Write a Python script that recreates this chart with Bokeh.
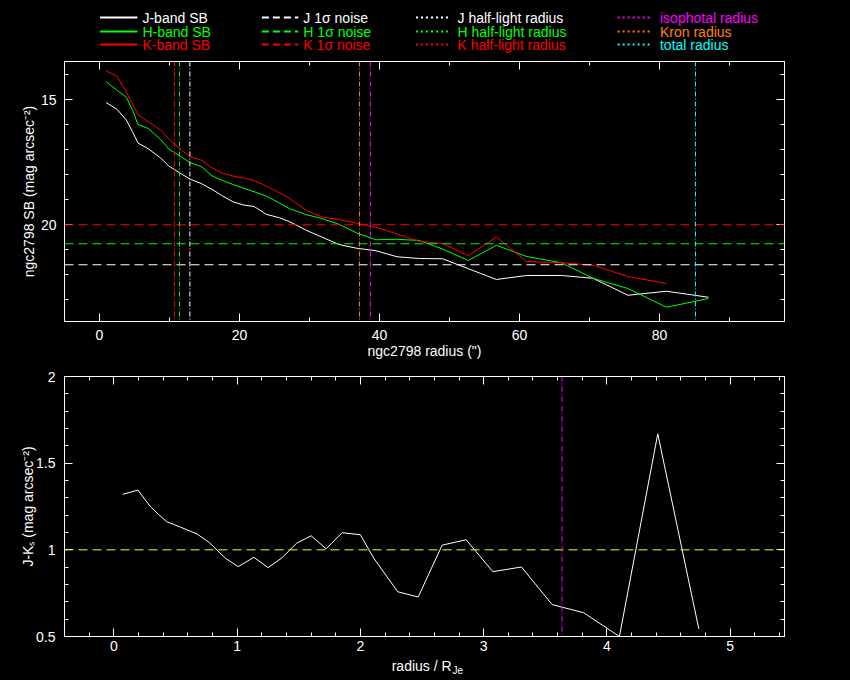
import numpy as np
from bokeh.plotting import figure
from bokeh.models import Range1d, LinearAxis, FixedTicker, Span, ColumnDataSource
from bokeh.layouts import column
from bokeh.embed import file_html
from bokeh.resources import INLINE
from bokeh.core.properties import value

# ---------------- data ----------------
radius = [0.94, 2.5, 3.83, 4.7, 5.5, 6.96, 8.7, 9.9, 11.65, 12.98, 14.6, 16.1, 17.6, 19.06,
          20.6, 22.1, 23.8, 25.7, 27.1, 29.6, 31.75, 34.2, 36.75, 39.5, 42.5, 45.7, 49.0,
          52.7, 56.7, 61.0, 66.0, 70.5, 75.5, 81.0, 87.0]
sb_j = [15.11, 15.38, 15.81, 16.27, 16.73, 16.96, 17.32, 17.65, 17.96, 18.18, 18.36, 18.59,
        18.85, 19.08, 19.21, 19.27, 19.58, 19.72, 19.87, 20.23, 20.49, 20.79, 20.94, 21.04,
        21.28, 21.35, 21.36, 21.76, 22.19, 22.03, 22.03, 22.14, 22.82, 22.66, 22.90]
sb_h = [14.28, 14.62, 14.90, 15.40, 15.99, 16.15, 16.58, 16.97, 17.28, 17.52, 17.68, 18.05,
        18.23, 18.39, 18.54, 18.68, 18.85, 19.13, 19.35, 19.60, 19.75, 19.98, 20.33, 20.60,
        20.58, 20.63, 20.97, 21.43, 20.82, 21.27, 21.52, 22.14, 22.55, 23.30, 22.95]
radius_k = radius[:34]
sb_k = [13.84, 14.06, 14.68, 15.16, 15.60, 15.88, 16.20, 16.56, 17.01, 17.28, 17.42, 17.73,
        17.94, 18.05, 18.14, 18.23, 18.45, 18.72, 18.93, 19.44, 19.69, 19.79, 19.94, 20.10,
        20.37, 20.66, 20.75, 21.24, 20.49, 21.47, 21.52, 21.62, 22.07, 22.35]

noise_j, noise_h, noise_k = 21.6, 20.76, 20.0
r_half_j, r_half_h, r_half_k = 12.91, 11.43, 10.71
r_iso, r_kron, r_total = 38.71, 37.14, 85.14

x_norm = [0.073, 0.195, 0.298, 0.365, 0.427, 0.541, 0.676, 0.771, 0.906, 1.009, 1.136, 1.252,
          1.366, 1.482, 1.601, 1.722, 1.852, 2.0, 2.109, 2.303, 2.469, 2.663, 2.858, 3.074,
          3.307, 3.555, 3.812, 4.101, 4.412, 4.745]
jk = [1.32, 1.345, 1.248, 1.203, 1.163, 1.131, 1.091, 1.044, 0.951, 0.903, 0.957, 0.897,
      0.955, 1.038, 1.081, 1.006, 1.099, 1.087, 0.951, 0.758, 0.728, 1.027, 1.058, 0.874,
      0.901, 0.684, 0.637, 0.50, 1.669, 0.544]
jk_ref = 1.0
x_norm_iso = 3.636

top_xticks = [0, 20, 40, 60, 80]
top_xminor = [10, 30, 50, 70, 90]
top_yticks = [15, 20]
top_yminor = [14, 16, 17, 18, 19, 21, 22, 23]
bot_xticks = [0, 1, 2, 3, 4, 5]
bot_xminor = [-0.2, 0.2, 0.4, 0.6, 0.8, 1.2, 1.4, 1.6, 1.8, 2.2, 2.4, 2.6, 2.8, 3.2, 3.4,
              3.6, 3.8, 4.2, 4.4, 4.6, 4.8, 5.2, 5.4]
bot_yticks = [0.5, 1, 1.5, 2]
bot_yminor = [0.6, 0.7, 0.8, 0.9, 1.1, 1.2, 1.3, 1.4, 1.6, 1.7, 1.8, 1.9]

legend_col1 = ["J-band SB", "H-band SB", "K-band SB"]
legend_col2 = ["J 1\u03c3 noise", "H 1\u03c3 noise", "K 1\u03c3 noise"]
legend_col3 = ["J half-light radius", "H half-light radius", "K half-light radius"]
legend_col4 = ["isophotal radius", "Kron radius", "total radius"]

WHITE, GREEN, RED = "#ffffff", "#00ff00", "#ff0000"
MAGENTA, ORANGE, CYAN, YELLOW = "#ff00ff", "#ff8000", "#00ffff", "#ffff00"
FONT = "Liberation Sans"
FS = "14px"
DASH = "9 5"
DOT = "5 2 1 2"


def style_fig(p):
    p.background_fill_color = "black"
    p.border_fill_color = "black"
    p.outline_line_color = "white"
    p.outline_line_width = 1
    p.xgrid.visible = False
    p.ygrid.visible = False


def style_axis(ax, show_labels=True, standoff=8):
    ax.axis_line_color = "white"
    ax.major_tick_line_color = "white"
    ax.minor_tick_line_color = "white"
    ax.major_tick_in = 8
    ax.major_tick_out = 0
    ax.minor_tick_in = 4
    ax.minor_tick_out = 0
    ax.major_label_text_font = FONT
    if show_labels:
        ax.major_label_text_color = "white"
        ax.major_label_text_font_size = FS
        ax.major_label_standoff = standoff
    else:
        ax.major_label_text_color = None
        ax.major_label_text_font_size = "1px"
        ax.major_label_standoff = 0
    ax.axis_label_text_color = "white"
    ax.axis_label_text_font = FONT
    ax.axis_label_text_font_size = FS
    ax.axis_label_text_font_style = "normal"


def blank_fig(h):
    f = figure(width=850, height=h, x_range=Range1d(0, 850), y_range=Range1d(h, 0),
               min_border=0, toolbar_location=None, output_backend="svg",
               x_axis_location=None, y_axis_location=None)
    f.background_fill_color = "black"
    f.border_fill_color = "black"
    f.outline_line_color = None
    f.xgrid.visible = False
    f.ygrid.visible = False
    return f


# ---------------- legend strip ----------------
leg = blank_fig(54)
rows_y = [17, 31, 44]
row_colors = [WHITE, GREEN, RED]
col4_colors = [MAGENTA, ORANGE, CYAN]
cols = [(42, 86, 92, legend_col1, row_colors, None),
        (233, 276, 282, legend_col2, row_colors, "7 4"),
        (415, 455, 464, legend_col3, row_colors, "2 3"),
        (653, 694, 703, legend_col4, col4_colors, "2 3")]
for x0, x1, xt, labels, colors, dash in cols:
    src = ColumnDataSource(dict(x0=[x0] * 3, x1=[x1] * 3, y=rows_y, t=labels, c=colors))
    kw = {} if dash is None else {"line_dash": dash}
    leg.segment(x0="x0", y0="y", x1="x1", y1="y", line_color="c", line_width=2, source=src, **kw)
    leg.text(x=xt, y="y", text="t", text_color="c", text_font=value(FONT),
             text_font_size=value(FS), text_baseline="middle", text_align="left", source=src)

# ---------------- top panel ----------------
top = figure(width=850, height=312, x_range=Range1d(-5.0, 97.86), y_range=Range1d(23.87, 13.47),
             min_border_left=64, min_border_right=66, min_border_top=7, min_border_bottom=45,
             toolbar_location=None, output_backend="svg")
style_fig(top)
xt_top = FixedTicker(ticks=top_xticks, minor_ticks=top_xminor)
yt_top = FixedTicker(ticks=top_yticks, minor_ticks=top_yminor)
top.below[0].ticker = xt_top
top.left[0].ticker = yt_top
top.add_layout(LinearAxis(ticker=xt_top), "above")
top.add_layout(LinearAxis(ticker=yt_top), "right")
for ax in top.below:
    style_axis(ax, standoff=8)
for ax in top.left:
    style_axis(ax, standoff=8)
for ax in top.above + top.right:
    style_axis(ax, show_labels=False)
top.below[0].axis_label = 'ngc2798 radius (")'
top.below[0].axis_label_standoff = 0
top.left[0].axis_label = "ngc2798 SB (mag arcsec\u207b\u00b2)"
top.left[0].axis_label_standoff = 1

top.line(radius, sb_j, line_color=WHITE, line_width=1)
top.line(radius, sb_h, line_color=GREEN, line_width=1)
top.line(radius_k, sb_k, line_color=RED, line_width=1)

for loc, col in [(noise_j, WHITE), (noise_h, GREEN), (noise_k, RED)]:
    top.add_layout(Span(location=loc, dimension="width", line_color=col, line_dash=DASH, line_width=1))
for loc, col in [(r_half_j, WHITE), (r_half_h, GREEN), (r_half_k, RED),
                 (r_kron, ORANGE), (r_iso, MAGENTA), (r_total, CYAN)]:
    top.add_layout(Span(location=loc, dimension="height", line_color=col, line_dash=DOT, line_width=1))

# ---------------- bottom panel ----------------
bot = figure(width=850, height=291, x_range=Range1d(-0.40, 5.44), y_range=Range1d(0.5, 2.0),
             min_border_left=64, min_border_right=66, min_border_top=10, min_border_bottom=21,
             toolbar_location=None, output_backend="svg")
style_fig(bot)
xt_bot = FixedTicker(ticks=bot_xticks, minor_ticks=bot_xminor)
yt_bot = FixedTicker(ticks=bot_yticks, minor_ticks=bot_yminor)
bot.below[0].ticker = xt_bot
bot.left[0].ticker = yt_bot
bot.add_layout(LinearAxis(ticker=xt_bot), "above")
bot.add_layout(LinearAxis(ticker=yt_bot), "right")
for ax in bot.below:
    style_axis(ax, standoff=4)
for ax in bot.left:
    style_axis(ax, standoff=9)
for ax in bot.above + bot.right:
    style_axis(ax, show_labels=False)
bot.left[0].major_label_overrides = {0.5: "0.5", 1: "1", 1.5: "1.5", 2: "2"}
bot.left[0].axis_label = "J-K\u209b (mag arcsec\u207b\u00b2)"
bot.left[0].axis_label_standoff = -3

bot.add_layout(Span(location=jk_ref, dimension="width", line_color=YELLOW, line_dash=DASH, line_width=1))
bot.add_layout(Span(location=x_norm_iso, dimension="height", line_color=MAGENTA, line_dash=DOT, line_width=1))
bot.line(x_norm, jk, line_color=WHITE, line_width=1)

# ---------------- x-axis title of the bottom panel (with subscript) ----------------
xtitle = blank_fig(23)
xtitle.text(x=[457], y=[8], text=["radius / R"], text_color="white", text_font=value(FONT),
            text_font_size=value(FS), text_align="right", text_baseline="middle")
xtitle.text(x=[458], y=[13], text=["Je"], text_color="white", text_font=value(FONT),
            text_font_size=value("10px"), text_align="left", text_baseline="middle")

layout = column(leg, top, bot, xtitle, spacing=0)
layout.background = "black"

html = file_html(layout, INLINE)
html = html.replace("</head>", "<style>html, body { background-color: #000000; }</style></head>", 1)
open("out.html", "w").write(html)
